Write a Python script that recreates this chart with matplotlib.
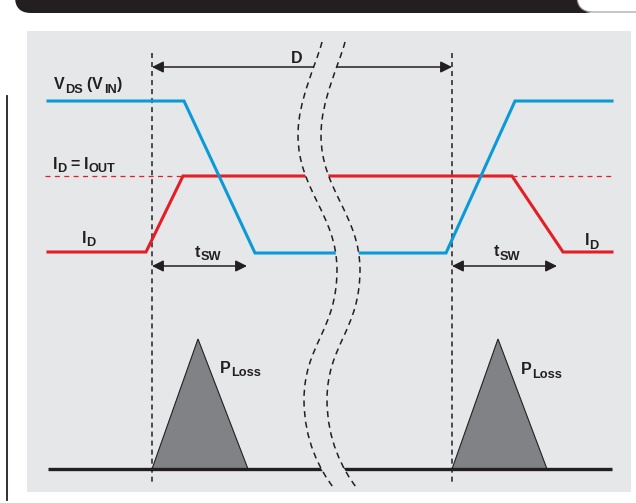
import matplotlib
matplotlib.use("Agg")
import matplotlib.pyplot as plt
from matplotlib.patches import Rectangle, FancyBboxPatch, PathPatch, Polygon
from matplotlib.path import Path

plt.rcParams['font.family'] = ['Liberation Sans', 'DejaVu Sans']

# --- waveform data (time axis runs left to right, levels in drawing units) ---
vds_t = [48, 184, 255, 446, 515, 612]
vds_v = [101, 101, 253, 253, 101, 101]

id_t = [48, 146, 183, 512, 563, 612]
id_v = [252, 252, 176, 176, 252, 252]

iout_level = 176
iout_spans = [(45, 183), (512, 612)]

loss_left_t = [152, 198, 248]
loss_right_t = [452, 498, 547]
loss_v = [469, 339, 469]

baseline_t = [48, 612]
baseline_v = [469, 469]

switch_edges = [152, 452]
tsw_end = [247, 557]

# label pieces: (text, normal/subscript, extra gap before)
label_vds = [('V', 'n', 0), ('DS', 's', 0), ('(', 'n', 4), ('V', 'n', 0), ('IN', 's', 2), (')', 'n', 0)]
label_iout = [('I', 'n', 0), ('D', 's', 0), ('=', 'n', 4), ('I', 'n', 4), ('OUT', 's', 0)]
label_id = [('I', 'n', 0), ('D', 's', 0)]
label_tsw = [('t', 'n', 0), ('SW', 's', 0)]
label_ploss = [('P', 'n', 0), ('Loss', 's', 0)]
label_duty = [('D', 'n', 0)]

BLUE = '#0a9ad7'
RED = '#e31e26'
PANEL = '#e6e7e8'
INK = '#231f20'
LOSS = '#808285'

fig = plt.figure(figsize=(6.36, 5.03), dpi=100)
ax = fig.add_axes([0, 0, 1, 1])
ax.set_xlim(0, 636)
ax.set_ylim(503, 0)
ax.axis('off')
renderer = fig.canvas.get_renderer()


def rich_text(x, y, parts, size=11.5):
    """Draw a label from normal and subscript pieces placed side by side."""
    cx = x
    for s, kind, gap in parts:
        cx += gap
        if kind == 's':
            fs, yy = size * 0.8, y + 3.5
        else:
            fs, yy = size, y
        t = ax.text(cx, yy, s, fontsize=fs, fontweight='bold', color=INK,
                    va='baseline', ha='left', zorder=9)
        cx += t.get_window_extent(renderer=renderer).width


# header strip
ax.add_patch(FancyBboxPatch((15, -30), 585, 43, boxstyle="round,pad=0,rounding_size=16",
                            fc=INK, ec='none', zorder=1))
ax.add_patch(FancyBboxPatch((577, -30), 80, 42, boxstyle="round,pad=0,rounding_size=16",
                            fc='white', ec='#9a9a9a', lw=0.8, zorder=2))
ax.plot([7, 7], [96, 500], color=INK, lw=1.3, zorder=1)

# panel
ax.add_patch(Rectangle((27, 31), 604, 461, fc=PANEL, ec='none', zorder=0.5))

# switching-edge markers
for x in switch_edges:
    ax.plot([x, x], [53, 482], color=INK, lw=1.1, ls=(0, (3.3, 2.6)), zorder=3)

# I_OUT reference level
for a, b in iout_spans:
    ax.plot([a, b], [iout_level, iout_level], color=RED, lw=0.9, ls=(0, (4, 3.5)), zorder=3)

# waveforms
ax.plot(id_t, id_v, color=RED, lw=2.2, solid_joinstyle='miter', zorder=4)
ax.plot(vds_t, vds_v, color=BLUE, lw=2.2, solid_joinstyle='miter', zorder=5)

# loss triangles
for tt in (loss_left_t, loss_right_t):
    ax.add_patch(Polygon(list(zip(tt, loss_v)), closed=True, fc=LOSS, ec=INK, lw=0.8, zorder=4))

ax.plot(baseline_t, baseline_v, color=INK, lw=2.4, solid_capstyle='butt', zorder=5)

# dimension arrows
arrow_kw = dict(arrowstyle='<|-|>', mutation_scale=17, color=INK, lw=1.1,
                shrinkA=0, shrinkB=0)
ax.annotate('', xy=(switch_edges[1], 67), xytext=(switch_edges[0], 67),
            arrowprops=arrow_kw, zorder=6)
for x0, x1 in zip(switch_edges, tsw_end):
    ax.annotate('', xy=(x1, 266), xytext=(x0, 266), arrowprops=arrow_kw, zorder=6)

# axis break
left_curve = [(322, 42), (316, 65), (298, 100), (298, 135), (298, 190), (337, 215),
              (337, 270), (337, 330), (304, 345), (304, 400), (304, 440), (320, 470),
              (333, 487)]
gap = 23
right_curve = [(x + gap, y) for x, y in left_curve]
n = len(left_curve)
curve_codes = [Path.MOVETO] + [Path.CURVE4] * (n - 1)
fill_verts = left_curve + right_curve[::-1] + [left_curve[0]]
fill_codes = curve_codes + [Path.LINETO] + [Path.CURVE4] * (n - 1) + [Path.CLOSEPOLY]
ax.add_patch(PathPatch(Path(fill_verts, fill_codes), fc=PANEL, ec='none', zorder=7))
for c in (left_curve, right_curve):
    ax.add_patch(PathPatch(Path(c, curve_codes), fc='none', ec=INK, lw=1.1,
                           ls=(0, (4, 3)), zorder=8))

# labels
rich_text(54, 89, label_vds)
rich_text(53, 169, label_iout)
rich_text(82, 243, label_id)
rich_text(585, 245, label_id)
rich_text(195, 257, label_tsw)
rich_text(494, 256, label_tsw)
rich_text(220, 373, label_ploss)
rich_text(521, 374, label_ploss)
rich_text(291, 63, label_duty)

fig.savefig('out.png', dpi=100)
